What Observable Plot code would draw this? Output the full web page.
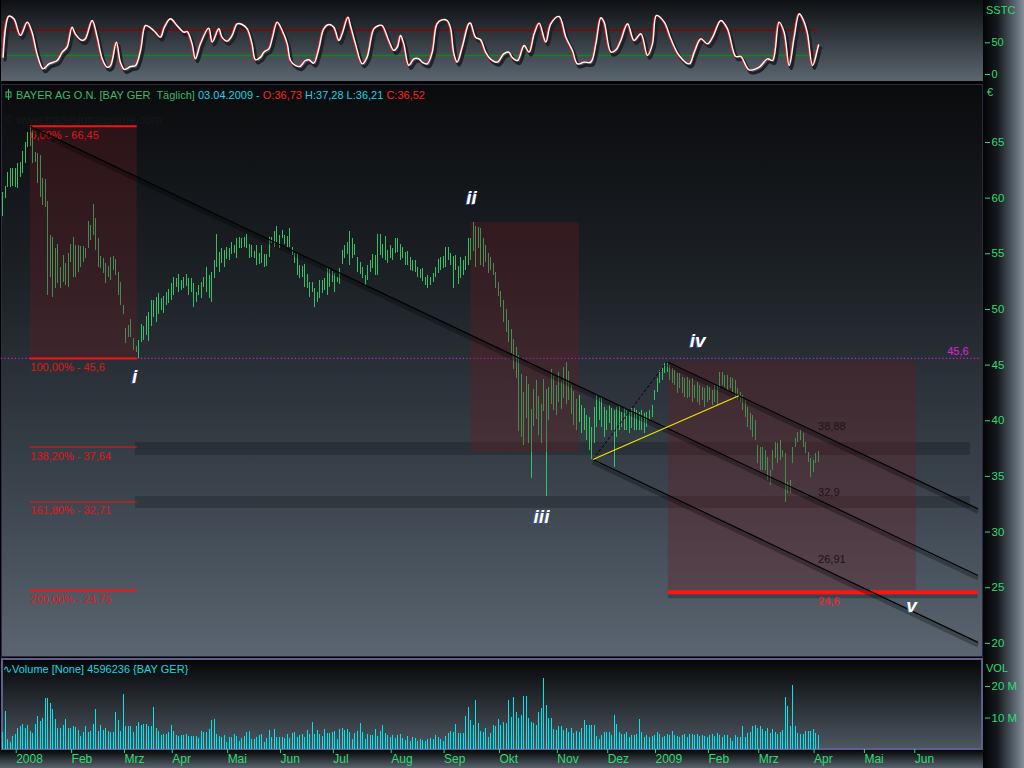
<!DOCTYPE html>
<html>
<head>
<meta charset="utf-8">
<script src="https://cdn.jsdelivr.net/npm/d3@7"></script>
<script src="https://cdn.jsdelivr.net/npm/@observablehq/plot@0.6"></script>
<style>
  html, body { margin: 0; padding: 0; background: #000; }
  #chart { position: relative; width: 1024px; height: 768px; overflow: hidden; background: #000;
           font-family: "Liberation Sans", Arial, sans-serif; }
  .bg { position: absolute; box-sizing: border-box; }
  #stochBg { left: 1px; top: 0; width: 982px; height: 81px; background: linear-gradient(#0e1013, #5b6670); }
  #mainBg { left: 1px; top: 84px; width: 982px; height: 573px; border: 1px solid #2b2b46;
            background: linear-gradient(#0a0b0d 0%, #1d2227 35%, #3a434c 70%, #5a6571 100%); }
  #volBg { left: 1px; top: 658px; width: 982px; height: 92px; border: 2px solid #5f5f8e;
           background: linear-gradient(#060708, #4c5660); }
  #axisStrip { left: 983px; top: 0; width: 41px; height: 768px;
               background: linear-gradient(90deg, #030405 0%, #15191d 35%, #56606a 75%, #858f9a 100%); }
  #timeStrip { left: 0; top: 750px; width: 983px; height: 18px; background: linear-gradient(#040506, #59636d); }
  .txt { position: absolute; white-space: pre; font-size: 11px; line-height: 13px; }
  #chart svg { position: absolute; left: 0; overflow: visible; }
</style>
</head>
<body>
<div id="chart">
  <div class="bg" id="axisStrip"></div>
  <div class="bg" id="timeStrip"></div>
  <div class="bg" id="stochBg"></div>
  <div class="bg" id="mainBg"></div>
  <div class="bg" id="volBg"></div>
  <div class="txt" style="left:986px;top:4px;color:#2fdc72">SSTC</div>
  <div class="txt" style="left:987px;top:86px;color:#2fdc72">€</div>
  <div class="txt" style="left:986px;top:662px;color:#2fdc72">VOL</div>
  <div class="txt" id="header" style="left:5px;top:89px"></div>
  <div class="txt" style="left:4px;top:114px;color:#16191c;font-size:12px">© www.tradesignalonline.com</div>
  <div class="txt" id="volHeader" style="left:3px;top:663px;color:#17d6e4"></div>
</div>
<script>
// ---- time axis: trading-day index (0 = first session of 2008) ----
const monthIdx    = [0, 22, 43, 62, 84, 105, 126, 149, 170, 192, 215, 235, 254, 275, 295, 317, 337, 357];
const monthLabels = ["2008", "Feb", "Mrz", "Apr", "Mai", "Jun", "Jul", "Aug", "Sep", "Okt", "Nov", "Dez",
                     "2009", "Feb", "Mrz", "Apr", "Mai", "Jun"];
const lastBar = 319;            // 03.04.2009
const lastDate = "03.04.2009";
const lastOHLC = [36.73, 37.28, 36.21, 36.52];

// ---- daily high / low, starting at session index firstBar ----
const firstBar = -5;
const barHigh = [
  60.54, 61.05, 62.30, 62.63, 62.69, 62.69, 63.08, 63.23, 64.19, 65.03,
  65.93, 66.45, 66.08, 64.13, 63.98, 63.83, 61.74, 61.68, 59.73, 56.64,
  56.49, 55.45, 55.84, 53.80, 54.85, 54.10, 55.00, 55.84, 56.49, 55.75,
  55.75, 55.66, 55.66, 55.51, 57.90, 57.54, 59.43, 58.14, 56.40, 54.76,
  54.55, 54.10, 53.89, 54.70, 54.79, 54.46, 53.35, 52.45, 50.35, 48.26,
  48.56, 49.10, 47.36, 46.70, 47.21, 48.65, 48.47, 49.37, 49.76, 50.81,
  50.81, 51.10, 51.46, 51.01, 51.16, 51.55, 51.76, 52.36, 52.90, 52.75,
  53.11, 52.60, 52.90, 53.14, 52.81, 52.75, 52.30, 51.55, 52.15, 52.39,
  52.90, 53.80, 53.05, 53.35, 54.40, 56.71, 55.15, 55.51, 55.30, 55.60,
  55.45, 56.05, 55.75, 56.41, 56.50, 56.41, 56.50, 56.71, 55.84, 55.75,
  55.21, 55.75, 55.00, 55.75, 54.91, 54.91, 56.50, 56.50, 57.00, 57.48,
  56.65, 57.10, 56.65, 56.59, 57.25, 55.60, 55.00, 54.91, 53.95, 53.89,
  54.01, 53.14, 52.39, 52.45, 51.85, 51.55, 52.60, 52.60, 52.75, 53.65,
  53.59, 53.41, 53.26, 52.90, 53.65, 55.30, 55.75, 56.05, 57.00, 56.35,
  55.81, 54.70, 54.25, 53.80, 53.05, 53.95, 54.40, 54.91, 54.85, 56.71,
  56.71, 55.81, 56.59, 55.30, 55.75, 55.51, 56.35, 56.41, 55.81, 55.60,
  55.15, 55.21, 54.70, 54.40, 54.40, 53.80, 53.59, 53.65, 52.90, 53.05,
  52.90, 53.20, 53.80, 54.46, 54.70, 54.79, 55.60, 55.60, 55.00, 54.79,
  54.85, 53.89, 54.70, 54.40, 54.79, 56.35, 56.35, 57.80, 57.48, 57.39,
  57.25, 56.35, 55.75, 55.00, 54.70, 54.10, 53.35,
  52.40, 51.60, 50.80, 50.00, 49.00, 48.20, 47.30, 46.60, 45.90, 44.20,
  42.50, 44.00, 43.30, 41.00, 42.80, 43.60, 42.20, 41.50, 43.70, 42.80,
  43.00, 44.60, 44.00, 43.20, 44.30, 43.50, 44.80, 45.20, 44.40, 43.20,
  42.60, 41.90, 42.30, 41.37, 41.07, 40.47, 40.32, 39.42, 41.22, 42.27,
  41.97, 42.12, 41.22, 40.92, 41.37, 41.07, 40.92, 41.22, 41.37, 40.77,
  41.07, 40.92, 40.77, 41.07, 41.07, 40.92, 40.77, 40.92, 40.62, 40.77,
  40.92, 41.37, 42.72, 43.77, 44.52, 44.82, 45.12, 45.30, 44.97, 44.67,
  44.52, 44.22, 44.22, 43.92, 43.77, 43.92, 43.62, 43.77, 43.17, 43.47,
  43.17, 43.02, 42.87, 43.17, 43.02, 42.72, 43.17, 43.17, 44.37, 44.37,
  44.07, 44.07, 43.92, 43.77, 43.62, 42.87, 42.57, 42.27, 41.82, 41.22,
  40.62, 40.47, 40.02, 37.78, 37.63, 37.63, 37.33, 36.73, 35.53, 37.33,
  38.08, 37.93, 38.23, 37.33, 37.03, 34.48, 34.63, 37.63, 38.38, 38.98,
  39.12, 38.83, 38.08, 37.18, 36.58, 36.43, 37.03, 37.28
];
const barLow = [
  58.35, 59.94, 60.93, 60.99, 61.08, 60.93, 60.84, 61.89, 62.18, 63.08,
  64.58, 64.64, 63.08, 63.17, 61.29, 60.09, 59.34, 59.19, 51.25, 52.90,
  51.10, 51.85, 52.30, 51.85, 52.45, 52.15, 52.00, 54.25, 52.90, 52.90,
  53.35, 53.80, 54.25, 54.55, 55.45, 56.19, 56.64, 55.30, 53.80, 53.65,
  53.20, 52.30, 52.90, 52.60, 53.50, 53.05, 51.25, 50.35, 49.55, 46.91,
  47.51, 47.51, 46.31, 46.10, 45.60, 47.06, 47.21, 47.66, 47.15, 48.50,
  49.31, 48.80, 49.55, 49.91, 49.61, 50.35, 50.50, 50.81, 51.25, 52.00,
  51.55, 51.70, 51.85, 52.06, 51.25, 51.55, 50.20, 50.60, 51.26, 51.02,
  52.00, 51.55, 50.96, 50.60, 52.75, 53.80, 53.35, 54.10, 53.80, 54.49,
  54.40, 54.91, 55.00, 54.61, 55.51, 55.51, 55.60, 55.45, 54.55, 54.70,
  54.61, 53.95, 54.01, 54.10, 53.80, 53.86, 54.70, 55.90, 55.60, 56.05,
  55.51, 56.35, 55.81, 55.60, 55.60, 54.85, 54.10, 53.05, 52.75, 52.90,
  52.00, 51.91, 51.11, 51.55, 50.21, 50.60, 50.96, 51.41, 51.70, 51.26,
  52.00, 52.39, 51.55, 52.39, 52.21, 54.01, 54.55, 54.91, 53.95, 54.55,
  54.85, 53.35, 53.11, 52.75, 52.15, 52.60, 53.35, 53.71, 53.05, 53.05,
  54.85, 54.55, 54.40, 54.10, 54.55, 54.40, 55.00, 55.09, 54.40, 54.55,
  53.95, 53.95, 53.50, 53.41, 53.29, 52.90, 52.75, 52.51, 52.15, 51.85,
  52.15, 52.39, 52.90, 53.20, 53.50, 53.71, 53.80, 54.40, 53.95, 51.85,
  53.50, 52.21, 52.75, 53.05, 53.50, 53.95, 54.40, 55.21, 53.80, 55.45,
  53.95, 53.80, 54.25, 53.20, 53.50, 53.05, 51.91,
  51.20, 50.20, 48.80, 47.90, 47.00, 46.00, 44.60, 43.80, 39.00, 38.50,
  37.80, 40.20, 38.00, 34.80, 39.50, 40.10, 38.70, 38.00, 40.80, 33.20,
  40.00, 41.50, 40.90, 40.50, 41.60, 41.00, 42.00, 41.50, 41.80, 40.60,
  39.60, 39.10, 39.80, 38.83, 39.13, 38.23, 37.33, 36.52, 37.93, 39.42,
  40.02, 39.42, 38.53, 39.13, 39.72, 39.13, 35.83, 38.53, 39.13, 39.42,
  39.13, 39.13, 38.83, 39.28, 39.13, 39.13, 39.13, 39.13, 38.83, 39.42,
  40.02, 40.32, 41.82, 42.57, 43.32, 43.62, 44.22, 44.37, 43.62, 43.32,
  43.17, 42.42, 42.87, 42.42, 42.12, 41.97, 42.12, 41.67, 41.97, 41.67,
  41.37, 41.82, 41.22, 41.67, 41.82, 41.37, 41.67, 41.37, 42.87, 43.17,
  43.02, 42.72, 42.87, 42.57, 42.12, 41.82, 41.67, 40.92, 40.32, 39.42,
  39.13, 38.53, 38.23, 36.13, 35.53, 35.53, 35.53, 34.63, 34.18, 35.53,
  36.58, 36.13, 36.43, 36.73, 32.69, 33.43, 33.49, 36.13, 37.63, 38.08,
  38.23, 37.63, 37.03, 36.28, 34.93, 35.38, 36.13, 36.21
];
const bars = barHigh.map((h, k) => ({i: firstBar + k, high: h, low: barLow[k]}));

// ---- daily volume in millions, same sessions ----
const volume = [
  5.3, 12.1, 3.3, 2.1, 4.0, 4.8, 6.8, 7.4, 7.9, 6.8,
  7.7, 5.8, 5.1, 8.0, 10.5, 8.9, 10.0, 16.3, 16.3, 14.7,
  12.6, 9.6, 6.8, 6.8, 7.7, 9.6, 6.6, 6.8, 7.4, 6.9,
  6.1, 4.2, 5.3, 7.4, 5.4, 5.8, 8.0, 12.6, 5.6, 7.7,
  6.1, 6.8, 5.8, 5.3, 5.4, 11.7, 9.3, 5.6, 17.4, 7.4,
  7.4, 7.4, 5.4, 7.2, 8.5, 7.7, 7.9, 8.0, 7.4, 7.2,
  13.4, 6.6, 5.6, 4.5, 4.7, 4.9, 5.4, 7.7, 5.8, 4.5,
  4.2, 4.5, 4.3, 4.8, 4.2, 4.2, 4.2, 4.2, 3.5, 5.8,
  5.3, 5.3, 6.3, 9.2, 9.6, 4.8, 4.2, 3.8, 4.5, 2.2,
  3.9, 3.9, 4.8, 4.0, 2.6, 3.6, 4.1, 5.4, 5.7, 3.3,
  3.3, 3.7, 4.5, 4.8, 2.1, 3.5, 6.0, 3.7, 6.4, 3.7,
  3.8, 3.8, 3.6, 4.9, 3.6, 5.1, 5.4, 3.7, 4.4, 4.7,
  3.7, 6.1, 4.7, 8.5, 4.7, 6.1, 4.8, 4.2, 6.2, 5.1,
  5.1, 5.3, 5.8, 3.3, 6.2, 6.8, 6.1, 6.5, 5.3, 3.3,
  5.2, 5.8, 8.2, 5.3, 3.3, 4.8, 4.5, 4.5, 6.3, 4.0,
  5.6, 7.7, 5.1, 4.3, 3.7, 4.3, 3.5, 4.5, 4.7, 3.5,
  2.9, 4.0, 2.6, 3.9, 3.4, 2.6, 3.2, 2.9, 2.4, 3.2,
  3.5, 3.3, 4.5, 3.7, 3.3, 2.6, 4.0, 5.1, 5.8, 5.4,
  7.9, 5.1, 5.1, 5.1, 10.5, 13.3, 9.3, 7.7, 15.6, 8.4,
  5.8, 5.4, 6.6, 3.7, 5.1, 7.7, 7.2, 9.6, 7.7, 8.7,
  8.2, 15.6,
  10.3, 16.6, 11.9, 10.0, 10.8, 16.8, 16.8, 10.0, 8.7, 8.2,
  7.7, 11.9, 12.9, 22.6, 14.0, 10.0, 9.8, 6.4, 6.1, 7.2,
  7.2, 6.1, 6.8, 5.4, 6.6, 5.1, 5.6, 5.4, 6.8, 9.3,
  7.7, 7.5, 7.7, 7.7, 4.2, 3.3, 4.5, 5.3, 5.3, 5.3,
  4.5, 10.8, 8.0, 5.4, 4.8, 4.8, 5.4, 3.7, 4.3, 4.5,
  4.8, 9.6, 5.4, 3.7, 4.5, 3.7, 4.0, 4.3, 5.4, 4.7,
  3.7, 4.0, 4.7, 4.5, 5.6, 4.5, 4.2, 3.7, 4.5, 4.7,
  3.7, 4.7, 4.7, 4.5, 4.7, 4.2, 4.5, 4.2, 3.7, 4.3,
  4.7, 4.2, 5.1, 4.5, 3.7, 4.5, 4.3, 3.5, 2.6, 4.3,
  3.7, 3.7, 7.2, 3.9, 5.1, 5.4, 7.2, 7.5, 6.6, 7.2,
  6.3, 5.6, 6.6, 5.1, 6.4, 5.4, 4.7, 5.4, 6.1, 16.6,
  13.7, 7.2, 20.3, 7.2, 5.1, 4.7, 4.7, 5.6, 5.6, 5.8,
  6.4, 5.1, 4.596236
];
const vol = volume.map((v, k) => ({i: firstBar + k, v}));
const volTicks = [10, 20];

// ---- slow stochastic (session index, value) ----
const stochBar = [-4.8, -2.5, -0.5, 2.1, 4.8, 6.7, 8.7, 11.1, 13.4, 16.7, 18.7, 20.6, 22.6, 23.9, 26.6, 27.9,
  30.6, 32.6, 34.6, 36.5, 37.9, 40.2, 41.8, 43.4, 45.8, 47.8, 49.8, 51.8, 53.8, 55.7, 57.7, 59.3, 61.7, 64.3,
  67.0, 68.3, 70.3, 71.6, 73.6, 76.9, 78.3, 80.9, 82.2, 84.2, 86.2, 88.2, 90.2, 92.2, 94.1, 95.5, 97.5, 98.8,
  100.8, 102.1, 104.1, 106.1, 108.1, 109.4, 111.4, 113.1, 115.3, 116.7, 118.6, 120.6, 122.6, 124.6, 126.6,
  128.6, 129.9, 132.2, 133.2, 135.2, 137.9, 139.8, 142.5, 144.5, 145.8, 148.4, 150.4, 151.8, 153.1, 154.4,
  156.4, 158.4, 160.4, 161.7, 163.7, 165.7, 167.6, 169.6, 171.6, 172.9, 174.3, 175.6, 177.6, 180.2, 180.9,
  182.9, 184.9, 186.9, 188.8, 191.5, 194.1, 196.1, 197.4, 199.6, 202.2, 204.2, 206.2, 208.2, 210.8, 212.8,
  216.1, 218.8, 221.4, 223.4, 226.1, 228.7, 230.7, 232.7, 234.0, 236.7, 238.7, 240.6, 243.3, 245.9, 248.6,
  251.2, 253.2, 254.8, 257.9, 260.5, 263.8, 267.8, 269.8, 272.4, 275.1, 277.1, 280.4, 283.0, 286.3, 288.3,
  291.6, 295.6, 298.9, 300.9, 303.5, 305.5, 307.5, 309.5, 311.5, 313.5, 314.8, 316.8, 318.8, 319.2];
const stochVal = [27.4, 92.1, 87.9, 61.6, 82.6, 66.8, 32.6, 8.9, 16.8, 22.1, 35.3, 43.2, 74.7, 64.2, 53.7, 56.3,
  85.3, 58.9, 24.7, 11.6, 14.2, 51.1, 19.5, 7.9, 12.6, 14.2, 37.9, 77.4, 73.7, 66.8, 58.9, 74.7, 87.9, 77.4,
  66.8, 67.9, 48.4, 24.7, 48.4, 73.2, 51.1, 72.1, 58.9, 52.6, 61.6, 80.0, 78.9, 72.1, 48.4, 23.2, 27.4, 35.3,
  40.5, 56.3, 82.6, 69.5, 48.4, 22.1, 14.2, 12.6, 22.1, 23.2, 17.9, 40.5, 72.1, 78.9, 74.7,
  53.7, 64.2, 90.5, 77.4, 48.4, 16.8, 27.4, 72.1, 77.4, 77.4, 53.7, 37.9, 43.2, 61.6, 48.4,
  14.2, 24.7, 24.7, 19.5, 16.8, 35.3, 80.0, 86.3, 85.3, 74.7, 32.6, 19.5, 43.2, 80.0, 81.1,
  58.9, 54.7, 35.3, 24.7, 19.5, 32.6, 35.3, 27.4, 22.1, 45.8, 35.3, 64.2, 81.1, 51.1, 80.0,
  91.6, 58.9, 37.9, 16.8, 19.5, 19.5, 48.4, 89.5, 82.6, 35.3, 38.9, 53.7, 80.0, 53.7, 64.2,
  30.0, 48.4, 93.2, 82.6, 56.3, 30.0, 16.8, 35.3, 56.3, 48.4, 58.9, 85.3, 72.1, 28.4, 28.4,
  7.4, 11.6, 24.7, 22.1, 82.6, 66.8, 14.2, 58.9, 95.8, 82.6, 64.2, 14.2, 40.5, 46.8];
const stoch = stochBar.map((b, k) => ({i: b, v: stochVal[k]}));
const stochTicks = [0, 50];
const stochUpper = 70, stochLower = 30;

// ---- Fibonacci extension of the first decline ----
const fibPct    = ["0,00%", "100,00%", "138,20%", "161,80%", "200,00%"];
const fibLevels = [66.45, 45.6, 37.64, 32.71, 24.75];
const fibFrom = 6, fibTo = 48.5;

// ---- wave boxes, support zones, trend channel ----
const boxFrom = [6, 181, 259.5], boxTo = [48.5, 224.2, 358];
const boxLow  = [45.6, 37.15, 24.6], boxHigh = [66.45, 57.8, 45.25];
const zoneLow = [36.88, 32.12], zoneHigh = [38.05, 33.19];
const zoneFrom = 47.8, zoneTo = 379.5;
const targetLevel = 24.6, targetFrom = 259.5;
const pivotBar   = [259, 6, 229.5];          // top of iv, top of 2008, base after iii
const pivotPrice = [45.3, 66.45, 36.52];
const channelAtLast = [38.88, 32.9, 26.91];  // channel values on the last session
const yellowTo = 287.5;                      // where the yellow ray meets the upper channel line
const waveNames = ["i", "ii", "iii", "iv", "v"];
const waveBar   = [47.5, 181.3, 209.1, 271.1, 356.1];
const wavePrice = [43.9, 60.06, 31.4, 47.2, 23.4];
const level45 = 45.6;
const priceTicks = [20, 25, 30, 35, 40, 45, 50, 55, 60, 65];

// ---- layout ----
const W = 1024, plotRight = 984;
const xDomain = [(0 - 14.7) / 2.517, (plotRight - 14.7) / 2.517]; // sessions across the frame
const edgeBar = 382.5;
const green = "#2fdc72";
const font = "'Liberation Sans', Arial, sans-serif";
const fmt = v => String(v).replace(".", ",");
const chart = document.getElementById("chart");
const baseStyle = {background: "transparent", color: green, fontSize: "11px", fontFamily: font, overflow: "visible"};
const labelOf = new Map(monthIdx.map((d, k) => [d, monthLabels[k]]));

function place(svg, top) { svg.style.top = top + "px"; chart.appendChild(svg); }

// header lines
document.getElementById("header").innerHTML =
  `<svg width="7" height="11" style="position:static;vertical-align:-1px;margin-right:4px"><path d="M3.5 0V11" stroke="#3cb86a"/><rect x="1" y="3" width="5" height="5" fill="none" stroke="#3cb86a"/></svg>` +
  `<span style="color:#3cb86a">BAYER AG O.N. [BAY GER  Täglich]</span> ` +
  `<span style="color:#19d3e6">${lastDate} - </span>` +
  `<span style="color:#ff2424">O:${fmt(lastOHLC[0])}</span> ` +
  `<span style="color:#19d3e6">H:${fmt(lastOHLC[1])} L:${fmt(lastOHLC[2])}</span> ` +
  `<span style="color:#ff2424">C:${fmt(lastOHLC[3])}</span>`;
document.getElementById("volHeader").textContent =
  `∿Volume [None] ${Math.round(volume[volume.length - 1] * 1e6)} {BAY GER}`;

// ---- stochastic panel ----
place(Plot.plot({
  width: W, height: 81, marginLeft: 0, marginRight: W - plotRight, marginTop: 0, marginBottom: 0,
  style: baseStyle,
  x: {domain: xDomain, axis: null},
  y: {domain: [-11.05, 116.8], axis: null},
  marks: [
    Plot.ruleY([stochUpper], {x1: -5.5, x2: lastBar, stroke: "#7a0808", strokeWidth: 1.6}),
    Plot.ruleY([stochLower], {x1: -5.5, x2: lastBar, stroke: "#0a8a1a", strokeWidth: 1.6}),
    Plot.line(stoch, {x: "i", y: "v", stroke: "#1e2226", strokeWidth: 3, dx: 2, dy: 3, curve: "catmull-rom"}),
    Plot.line(stoch, {x: "i", y: "v", stroke: "#ff1a1a", strokeWidth: 1.1, dx: -1, curve: "catmull-rom"}),
    Plot.line(stoch, {x: "i", y: "v", stroke: "#ffffff", strokeWidth: 1.4, curve: "catmull-rom"}),
    Plot.axisY(stochTicks, {anchor: "right", tickSize: 5, tickPadding: 2, label: null, fontSize: 11})
  ]
}), 0);

// ---- price panel ----
const channels = pivotBar.map((b, k) => {
  const slope = (channelAtLast[k] - pivotPrice[k]) / (lastBar - b);
  return {x1: b, y1: pivotPrice[k], x2: edgeBar, y2: channelAtLast[k] + slope * (edgeBar - lastBar), slope};
});
const base = {x: pivotBar[2], y: pivotPrice[2]};
const yellow = [{x1: base.x, y1: base.y, x2: yellowTo,
                 y2: channelAtLast[0] + channels[0].slope * (yellowTo - lastBar)}];
const dashed = [{x1: base.x, y1: base.y, x2: pivotBar[0], y2: pivotPrice[0]}];

place(Plot.plot({
  width: W, height: 572, marginLeft: 0, marginRight: W - plotRight, marginTop: 0, marginBottom: 0,
  style: baseStyle,
  x: {domain: xDomain, axis: null},
  y: {domain: [18.82, 70.21], axis: null},
  marks: [
    // support zones
    Plot.rect(zoneLow, {x1: zoneFrom, x2: zoneTo, y1: d => d, y2: (d, k) => zoneHigh[k], fill: "#000", fillOpacity: 0.2}),
    // level of wave i
    Plot.ruleY([level45], {x1: -5.5, x2: 384, stroke: "#d21fd2", strokeWidth: 1.2, strokeDasharray: "1.2 2.3"}),
    // daily bars
    Plot.ruleX(bars, {x: "i", y1: "low", y2: "high", stroke: "#37bf66", strokeWidth: 1, shapeRendering: "crispEdges"}),
    // wave boxes
    Plot.rect(boxFrom, {x1: d => d, x2: (d, k) => boxTo[k], y1: (d, k) => boxLow[k], y2: (d, k) => boxHigh[k],
                        fill: "#6a1a20", fillOpacity: 0.33}),
    // Fibonacci levels
    Plot.ruleY(fibLevels.filter((d, k) => k === 0 || k === 1 || k === 4), {x1: fibFrom, x2: fibTo, stroke: "#ff1010", strokeWidth: 2}),
    Plot.ruleY(fibLevels.filter((d, k) => k === 2 || k === 3), {x1: fibFrom, x2: fibTo, stroke: "#ff1010", strokeWidth: 1}),
    Plot.text(fibLevels, {x: fibFrom, y: d => d, text: (d, k) => `${fibPct[k]} - ${fmt(d)}`, textAnchor: "start",
                          dy: 9, fill: "#e01818", fontSize: 11}),
    // target
    Plot.ruleY([targetLevel], {x1: targetFrom, x2: edgeBar, stroke: "#000", strokeOpacity: 0.25, strokeWidth: 4, dy: 4}),
    Plot.ruleY([targetLevel], {x1: targetFrom, x2: edgeBar, stroke: "#ff1414", strokeWidth: 4}),
    Plot.text([targetLevel], {x: lastBar, y: d => d, text: fmt, textAnchor: "start", dy: 9, fill: "#ff2020", fontSize: 11}),
    // trend channel
    Plot.link(channels, {x1: "x1", y1: "y1", x2: "x2", y2: "y2", stroke: "#000", strokeOpacity: 0.28, strokeWidth: 4, dy: 3}),
    Plot.link(channels, {x1: "x1", y1: "y1", x2: "x2", y2: "y2", stroke: "#000", strokeWidth: 1.2}),
    Plot.link(dashed, {x1: "x1", y1: "y1", x2: "x2", y2: "y2", stroke: "#000", strokeWidth: 1, strokeDasharray: "3 2"}),
    Plot.link(yellow, {x1: "x1", y1: "y1", x2: "x2", y2: "y2", stroke: "#f2e200", strokeWidth: 1.2}),
    Plot.text(channelAtLast, {x: lastBar, y: d => d, text: fmt, textAnchor: "start", dy: -7, fill: "#1c1214", fontSize: 11}),
    // level label
    Plot.text([level45], {x: 378.8, y: d => d, text: fmt, textAnchor: "end", dy: -7, fill: "#e020e0", fontSize: 11}),
    // wave count
    Plot.text(waveNames, {x: (d, k) => waveBar[k], y: (d, k) => wavePrice[k], text: d => d, fill: "#3a5aa8",
                          fontSize: 19, fontWeight: "bold", fontStyle: "italic", dx: -1, dy: 1}),
    Plot.text(waveNames, {x: (d, k) => waveBar[k], y: (d, k) => wavePrice[k], text: d => d, fill: "#ffffff",
                          fontSize: 19, fontWeight: "bold", fontStyle: "italic"}),
    Plot.axisY(priceTicks, {anchor: "right", tickSize: 5, tickPadding: 2, label: null, fontSize: 11.5})
  ]
}), 84);

// ---- volume panel and time axis ----
place(Plot.plot({
  width: W, height: 109, marginLeft: 0, marginRight: W - plotRight, marginTop: 0, marginBottom: 19,
  style: baseStyle,
  x: {domain: xDomain},
  y: {domain: [0, 28.6]},
  marks: [
    Plot.ruleX(vol, {x: "i", y1: 0, y2: "v", stroke: "#00e6ee", strokeWidth: 1, shapeRendering: "crispEdges"}),
    Plot.axisY(volTicks, {anchor: "right", tickSize: 5, tickPadding: 2, tickFormat: d => `${d} M`, label: null, fontSize: 11.5}),
    Plot.axisX(monthIdx, {anchor: "bottom", tickSize: 4, tickPadding: 1, textAnchor: "start", dx: 1,
                          tickFormat: d => labelOf.get(d), label: null, fontSize: 12})
  ]
}), 659);
</script>
</body>
</html>
